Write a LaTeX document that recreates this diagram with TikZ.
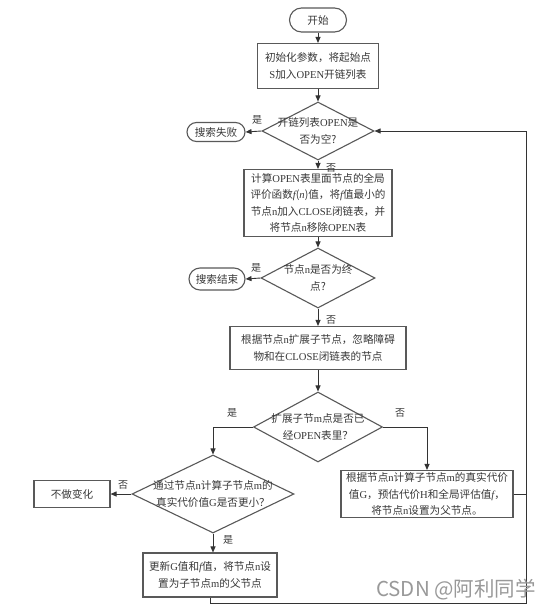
\documentclass[tikz,border=0pt]{standalone}
\usepackage{fontspec}
\setmainfont{Noto Sans CJK SC}
\newfontfamily\latf{Liberation Serif}
\newcommand\E[1]{{\latf #1}}
\newcommand\EI[1]{{\latf\itshape #1}}
\usetikzlibrary{shapes.geometric,arrows.meta}
\begin{document}
\begin{tikzpicture}[x=1pt,y=-1pt,
  every node/.style={font=\fontsize{10.6}{16.5}\selectfont, text=black!78},
  box/.style={draw=black!65, line width=1.1pt, fill=white, rectangle, align=center, inner sep=0pt},
  term/.style={box, rounded corners=#1},
  dia/.style={draw=black!65, line width=1.1pt, diamond, inner sep=0pt},
  txt/.style={align=center, inner sep=0pt},
  lab/.style={font=\fontsize{10}{12}\selectfont, inner sep=0pt},
  conn/.style={draw=black!80, line width=0.9pt},
  arr/.style={conn, -{Triangle[length=6pt,width=5pt]}}
]
\useasboundingbox (0,0) rectangle (535,613);
\fill[white] (0,0) rectangle (535,613);

% nodes
\node[term=12pt, minimum width=57pt, minimum height=24pt] (start) at (318,20) {开始};
\node[box, minimum width=121pt, minimum height=45pt] (init) at (318,66)
  {初始化参数，将起始点\\\E{S}加入\E{OPEN}开链列表};
\node[dia, minimum width=112pt, minimum height=58pt] (d1) at (318,131) {};
\node[txt] (d1t) at (d1) {开链列表\E{OPEN}是\\否为空?};
\node[term=9.5pt, minimum width=58pt, minimum height=19pt] (fail) at (216,132) {搜索失败};
\node[box, minimum width=148pt, minimum height=67pt] (b2) at (318,203)
  {计算\E{OPEN}表里面节点的全局\\评价函数\EI{f}(\EI{n})值，将\EI{f}值最小的\\节点\E{n}加入\E{CLOSE}闭链表，并\\将节点\E{n}移除\E{OPEN}表};
\node[dia, minimum width=114pt, minimum height=60pt] (d2) at (318,278) {};
\node[txt] (d2t) at (d2) {节点\E{n}是否为终\\点?};
\node[term=11pt, minimum width=56pt, minimum height=22pt] (done) at (217,279) {搜索结束};
\node[box, minimum width=176pt, minimum height=43pt] (b3) at (318,348)
  {根据节点\E{n}扩展子节点，忽略障碍\\物和在\E{CLOSE}闭链表的节点};
\node[dia, minimum width=129pt, minimum height=70pt] (d3) at (318,427) {};
\node[txt] (d3t) at (d3) {扩展子节\E{m}点是否已\\经\E{OPEN}表里？};
\node[box, minimum width=172pt, minimum height=47pt] (rb) at (427,494)
  {根据节点\E{n}计算子节点\E{m}的真实代价\\值\E{G}，预估代价\E{H}和全局评估值\EI{f}，\\将节点\E{n}设置为父节点。};
\node[dia, minimum width=162pt, minimum height=78pt] (d4) at (213,494) {};
\node[txt] (d4t) at (d4) {通过节点\E{n}计算子节点\E{m}的\\真实代价值\E{G}是否更小？};
\node[box, minimum width=76pt, minimum height=27pt] (nc) at (72,494) {不做变化};
\node[box, minimum width=134pt, minimum height=44pt] (last) at (210,575)
  {更新\E{G}值和\EI{f}值，将节点\E{n}设\\置为子节点\E{m}的父节点};
\coordinate (br) at (526,603);

% connectors
\draw[arr] (start) -- (init);
\draw[arr] (init) -- (d1);
\draw[arr] (d1.west) -- (fail.east);
\draw[arr] (d1.south) -- (b2.north);
\draw[arr] (b2.south) -- (d2.north);
\draw[arr] (d2.west) -- (done.east);
\draw[arr] (d2.south) -- (b3.north);
\draw[arr] (b3.south) -- (d3.north);
\draw[arr] (d3.west) -| (d4.north);
\draw[arr] (d3.east) -| (rb.north);
\draw[arr] (d4.west) -- (nc.east);
\draw[arr] (d4.south) -- (d4.south |- last.north);
\draw[arr] (last.south) |- (br) |- (d1.east);
\draw[conn] (rb.east) -- (rb.east -| br);

% labels
\node[lab] (l1) at (257,120) {是};
\node[lab] (l2) at (331,168) {否};
\node[lab] (l3) at (256,268) {是};
\node[lab] (l4) at (331,320) {否};
\node[lab] (l5) at (232,413) {是};
\node[lab] (l6) at (400,413) {否};
\node[lab] (l7) at (123,485) {否};
\node[lab] (l8) at (228,540) {是};

% watermark
\node[anchor=west, inner sep=0pt, text=black!40, font=\fontsize{20.5}{24}\selectfont] (wm) at (376,590) {CSDN @阿利同学};
\end{tikzpicture}
\end{document}
